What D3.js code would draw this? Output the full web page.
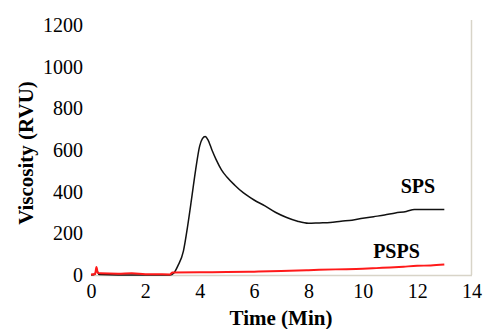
<!DOCTYPE html>
<html>
<head>
<meta charset="utf-8">
<script src="https://cdn.jsdelivr.net/npm/d3@7"></script>
<style>
  body { margin: 0; background: #fff; }
  svg { display: block; font-family: "Liberation Serif", "Times New Roman", serif; }
  .axis-title { font-size: 21px; font-weight: bold; }
  .series-label { font-size: 20px; font-weight: bold; }
</style>
</head>
<body>
<div id="chart"></div>
<script>
// time in minutes / viscosity in RVU
var spsTime = [0, 0.15, 0.2, 0.3, 1, 2, 2.9, 3.05, 3.2, 3.4, 3.55, 3.7, 3.85, 4.0, 4.1, 4.2, 4.3, 4.45, 4.6, 4.8, 5.0, 5.3, 5.6, 6.0, 6.4, 6.8, 7.2, 7.6, 8.0, 8.4, 8.8, 9.2, 9.6, 10.0, 10.4, 10.8, 11.2, 11.6, 11.9, 12.3, 12.7, 13.0];
var spsValues = [0, 5, 25, 2, 0, 0, 0, 10, 45, 115, 230, 365, 505, 620, 655, 665, 650, 600, 555, 505, 470, 430, 395, 360, 332, 300, 276, 258, 248, 250, 252, 258, 263, 272, 280, 288, 298, 305, 315, 315, 314, 314];

var pspsTime = [0, 0.15, 0.2, 0.25, 0.35, 1.0, 1.5, 2.0, 2.9, 3.0, 4, 5, 6, 7, 8, 9, 10, 10.5, 11, 11.5, 12, 12.5, 13];
var pspsValues = [2, 5, 38, 10, 8, 6, 8, 4, 3, 12, 13, 14, 16, 19, 23, 27, 30, 33, 36, 40, 44, 46, 50];

var xTicks = [0, 2, 4, 6, 8, 10, 12, 14];
var yTicks = [0, 200, 400, 600, 800, 1000, 1200];

var width = 484, height = 329;
var margin = { top: 25, right: 12.5, bottom: 54, left: 91 };
var serif = "'Liberation Serif', 'Times New Roman', serif";

var svg = d3.select("#chart").append("svg")
    .attr("width", width)
    .attr("height", height)

var xScale = d3.scaleLinear()
    .domain([0, 14])
    .range([margin.left, width - margin.right])

var yScale = d3.scaleLinear()
    .domain([0, 1200])
    .range([height - margin.bottom, margin.top])

var axisColor = "#d8d4c8"

// right border of the plot area
svg.append("line")
    .attr("x1", xScale(14)).attr("x2", xScale(14))
    .attr("y1", 20).attr("y2", yScale(0))
    .attr("stroke", axisColor)
    .attr("stroke-width", 1.5)

var xAxis = svg.append("g")
    .attr("class", "axis x-axis")
    .attr("transform", "translate(0," + yScale(0) + ")")
    .call(d3.axisBottom(xScale)
        .tickValues(xTicks)
        .tickFormat(d3.format("d"))
        .tickSize(0)
        .tickPadding(17))
    .attr("font-family", serif)
    .attr("font-size", 20)

xAxis.select(".domain")
    .attr("stroke", axisColor)
    .attr("stroke-width", 1.5)

xAxis.selectAll("text").attr("dy", "0.3em").attr("fill", "#000")

var yAxis = svg.append("g")
    .attr("class", "axis y-axis")
    .attr("transform", "translate(" + margin.left + ",0)")
    .call(d3.axisLeft(yScale)
        .tickValues(yTicks)
        .tickFormat(d3.format("d"))
        .tickSize(0)
        .tickPadding(8))
    .attr("font-family", serif)
    .attr("font-size", 20)

yAxis.select(".domain").remove()
yAxis.selectAll("text").attr("fill", "#000")

var line = d3.line()
    .curve(d3.curveMonotoneX)
    .x(function (d) { return xScale(d[0]) })
    .y(function (d) { return yScale(d[1]) })

var spsData = spsTime.map(function (t, i) { return [t, spsValues[i]] })
var pspsData = pspsTime.map(function (t, i) { return [t, pspsValues[i]] })

svg.append("path")
    .datum(spsData)
    .attr("fill", "none")
    .attr("stroke", "#111")
    .attr("stroke-width", 1.5)
    .attr("d", line)

svg.append("path")
    .datum(pspsData)
    .attr("fill", "none")
    .attr("stroke", "#ff1a1a")
    .attr("stroke-width", 2)
    .attr("d", line)

// series labels
svg.append("text")
    .attr("class", "series-label")
    .attr("x", xScale(12.03))
    .attr("y", 193)
    .attr("text-anchor", "middle")
    .text("SPS")

svg.append("text")
    .attr("class", "series-label")
    .attr("x", xScale(11.24))
    .attr("y", 258)
    .attr("text-anchor", "middle")
    .text("PSPS")

// axis titles
svg.append("text")
    .attr("class", "axis-title")
    .attr("x", 281)
    .attr("y", 325)
    .attr("text-anchor", "middle")
    .text("Time (Min)")

svg.append("text")
    .attr("class", "axis-title")
    .attr("transform", "translate(33,153) rotate(-90)")
    .attr("text-anchor", "middle")
    .text("Viscosity (RVU)")
</script>
</body>
</html>
